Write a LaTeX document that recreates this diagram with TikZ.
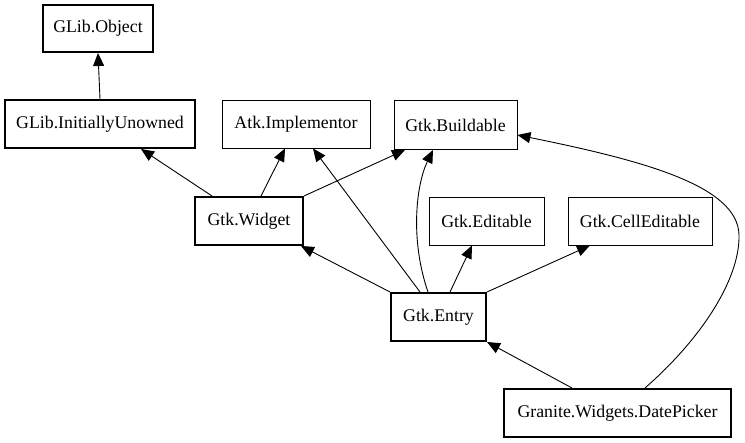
\documentclass[tikz,border=0pt]{standalone}
\usepackage{fontspec}
\setmainfont{Liberation Serif}
\usetikzlibrary{arrows.meta,calc}
\begin{document}
\begin{tikzpicture}[x=1pt,y=-1pt,
  cls/.style={draw,line width=0.9pt,inner sep=0pt,font=\fontsize{17.8}{20}\selectfont},
  thick cls/.style={cls,line width=2pt},
  inh/.style={line width=0.9pt,-{Triangle[length=13pt,width=11pt]}}]
\useasboundingbox (0,0) rectangle (745,443);
\node[thick cls,minimum width=110pt,minimum height=47pt] (obj) at (98,28.5) {GLib.Object};
\node[thick cls,minimum width=190pt,minimum height=48pt] (unowned) at (100,124) {GLib.InitiallyUnowned};
\node[cls,minimum width=148pt,minimum height=48pt] (atk) at (296,124) {Atk.Implementor};
\node[cls,minimum width=123pt,minimum height=49pt] (build) at (455.5,125) {Gtk.Buildable};
\node[thick cls,minimum width=108pt,minimum height=48pt] (widget) at (249,221) {Gtk.Widget};
\node[cls,minimum width=115pt,minimum height=48pt] (editable) at (486.5,221) {Gtk.Editable};
\node[cls,minimum width=144pt,minimum height=48pt] (celled) at (640,221) {Gtk.CellEditable};
\node[thick cls,minimum width=95pt,minimum height=48pt] (entry) at (438.5,317) {Gtk.Entry};
\node[thick cls,minimum width=227pt,minimum height=48pt] (date) at (617.5,413) {Granite.Widgets.DatePicker};

\draw[inh] (unowned.north) -- (obj.south);
\draw[inh] ($(widget.north)+(-37,0)$) -- ($(unowned.south)+(41,0)$);
\draw[inh] ($(widget.north)+(12,0)$) -- ($(atk.south)+(-11,0)$);
\draw[inh] (widget.north east) -- ($(build.south)+(-50.5,0)$);
\draw[inh] (entry.north west) -- ($(widget.south east)+(-3,0)$);
\draw[inh] ($(entry.north)+(-18.5,0)$) -- ($(atk.south)+(17,0)$);
\draw[inh] ($(entry.north)+(-10.5,0)$) .. controls (410,240) and (416,185) .. ($(build.south)+(-22.5,0)$);
\draw[inh] ($(entry.north)+(11.5,0)$) -- ($(editable.south)+(-14.5,0)$);
\draw[inh] (entry.north east) -- ($(celled.south)+(-50,0)$);
\draw[inh] ($(date.north)+(-45.5,0)$) -- (entry.south east);
\coordinate (bend) at (739,235);
\draw[inh] ($(date.north)+(27.5,0)$) .. controls (700,340) and (740,280) .. (bend)
  .. controls (738,185) and (640,160) .. ($(build.east)+(0,10)$);
\end{tikzpicture}
\end{document}
